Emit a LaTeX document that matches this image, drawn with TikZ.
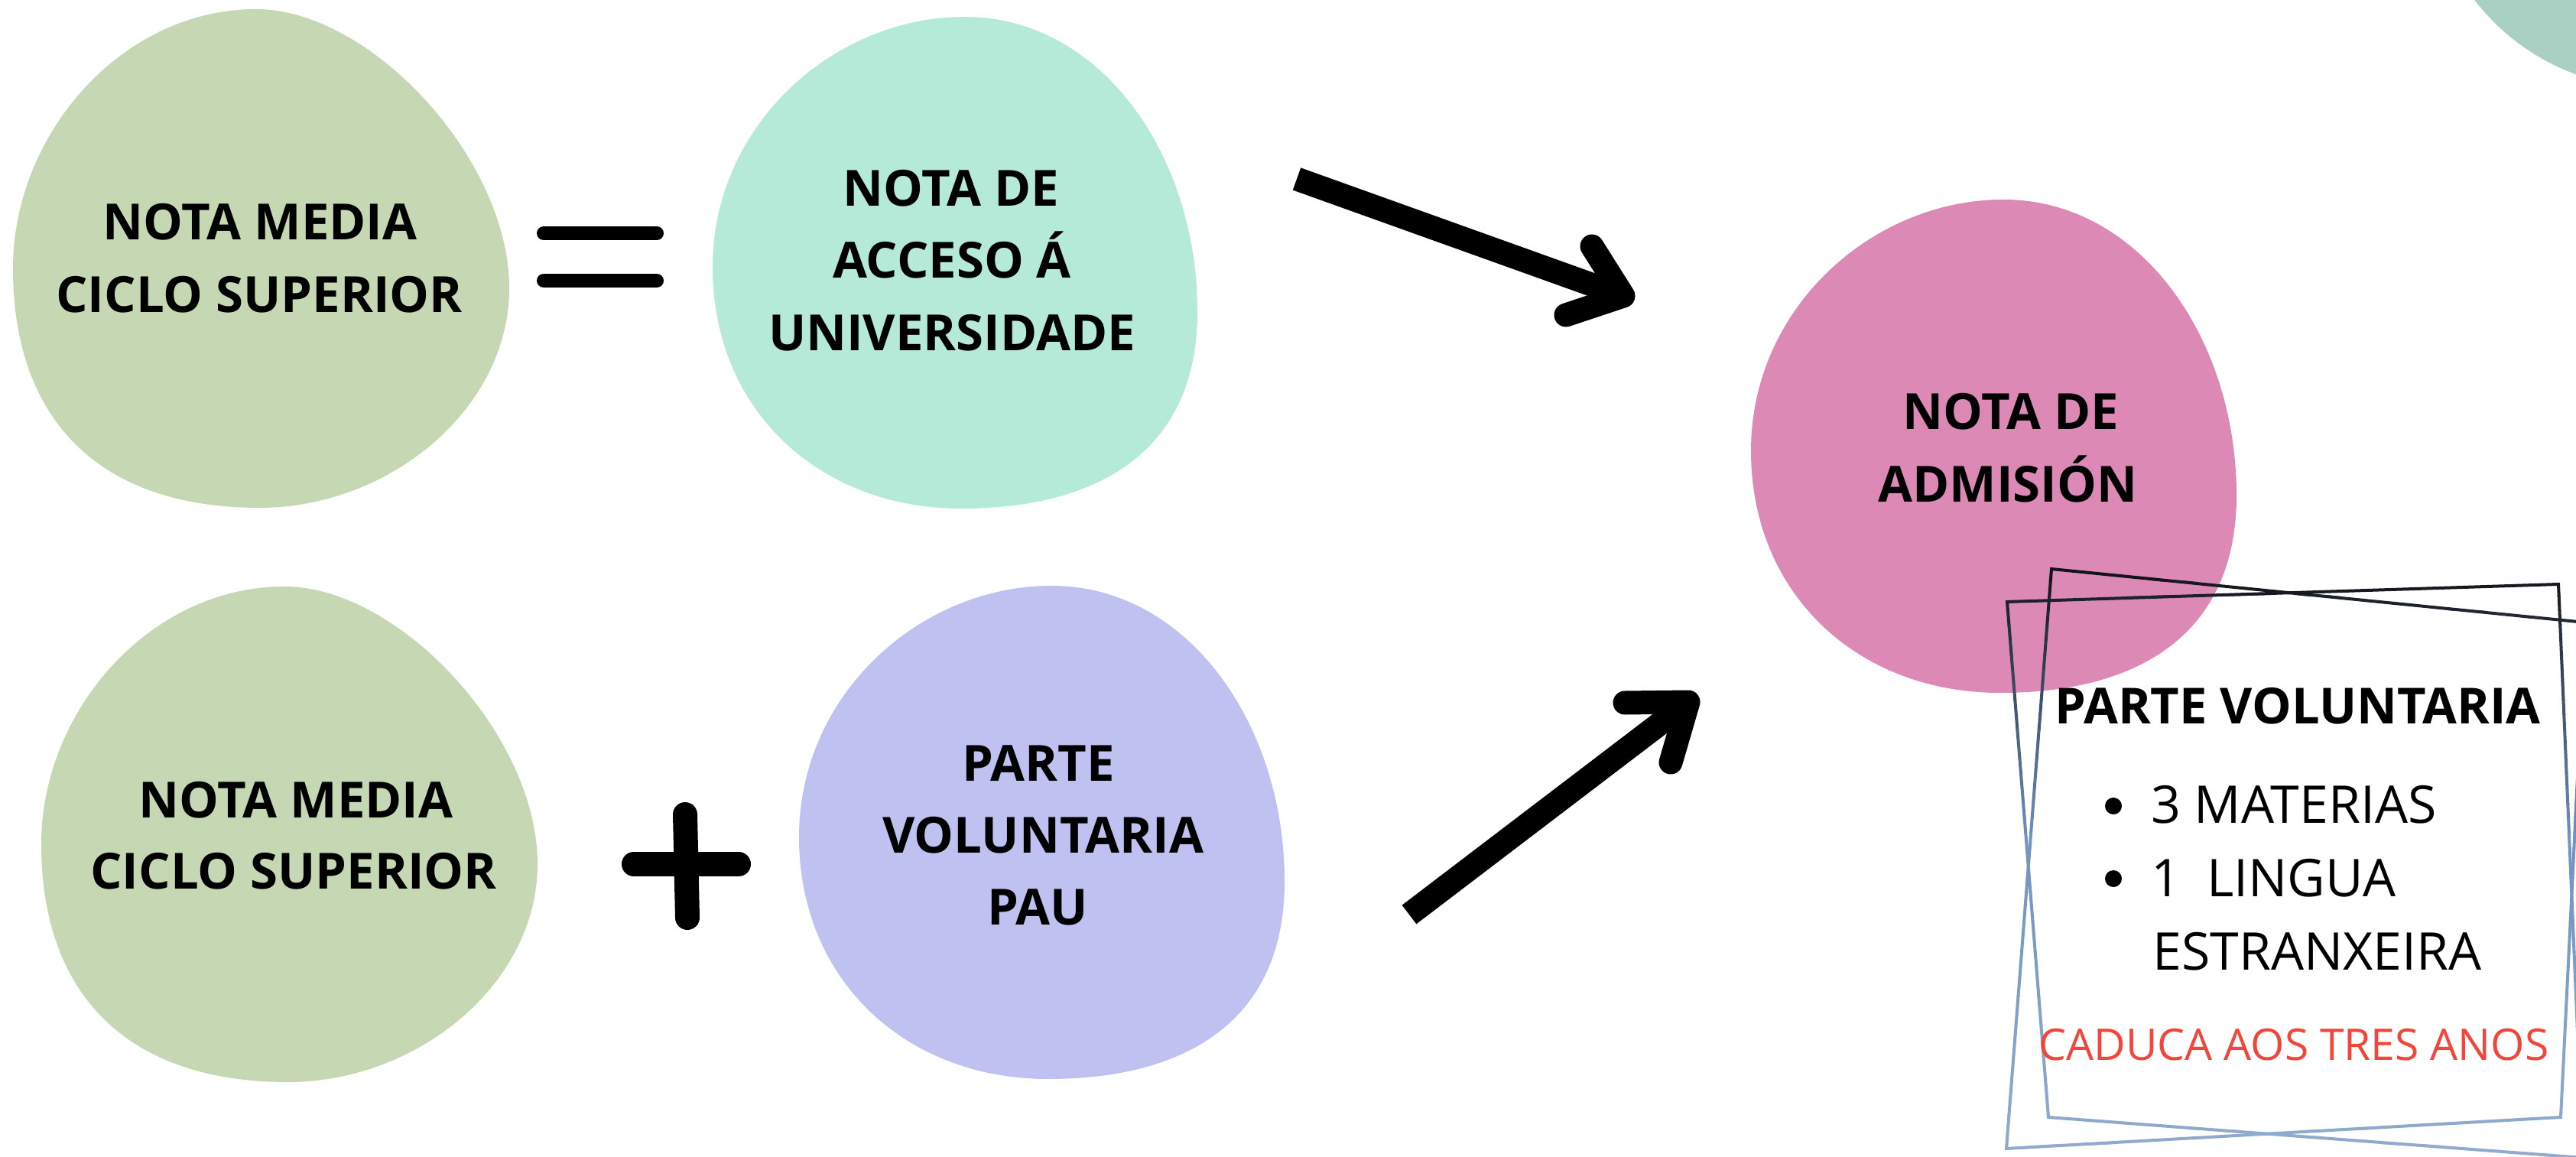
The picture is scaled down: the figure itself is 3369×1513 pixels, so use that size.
\documentclass[tikz,border=0pt]{standalone}
\usepackage{fontspec}
\setmainfont{Open Sans}
\definecolor{blobgreen}{HTML}{C5D7B3}
\definecolor{blobmint}{HTML}{B4EAD7}
\definecolor{blobpink}{HTML}{DC89B6}
\definecolor{bloblav}{HTML}{BFC1F1}
\definecolor{cornerteal}{HTML}{AAD0C4}
\definecolor{redtext}{HTML}{F0463C}
\definecolor{frametop}{HTML}{111418}
\definecolor{framemid}{HTML}{7394BE}
\definecolor{framebot}{HTML}{90ABCD}
\newcommand{\blobAshape}[1]{\fill[#1] (0.49,0)
  .. controls (0.72,0) and (1,0.30) .. (1,0.56)
  .. controls (1,0.80) and (0.76,1) .. (0.497,1)
  .. controls (0.17,1) and (0,0.82) .. (0,0.52)
  .. controls (0,0.25) and (0.22,0) .. (0.49,0) -- cycle;}
\newcommand{\blobBshape}[1]{\fill[#1] (0.52,0)
  .. controls (0.80,0) and (1,0.28) .. (1,0.60)
  .. controls (1,0.88) and (0.80,1) .. (0.513,1)
  .. controls (0.22,1) and (0,0.80) .. (0,0.509)
  .. controls (0,0.22) and (0.25,0) .. (0.52,0) -- cycle;}
\newcommand{\frameP}{(2683,744) -- (3381,814) -- (3349,1461) -- (2624,1502) -- cycle}
\newcommand{\frameQ}{(2625,787) -- (3346,764) -- (3378,1514) -- (2679,1461) -- cycle}
\begin{document}
\begin{tikzpicture}[x=0.5pt, y=-0.5pt,
  titletext/.style={anchor=base, inner sep=0pt, font=\bfseries\fontsize{32.6}{38}\selectfont},
  bodytext/.style={anchor=base west, inner sep=0pt, font=\fontsize{34}{40}\selectfont},
  redline/.style={anchor=base, inner sep=0pt, text=redtext, font=\fontsize{28.5}{34}\selectfont},
  bulletdot/.style={circle, fill=black, inner sep=0pt, minimum size=11pt},
  arrowshaft/.style={line width=15.5pt, line cap=butt},
  arrowhead/.style={line width=15.5pt, line cap=round, line join=round},
  signbar/.style={line cap=round}]
\useasboundingbox (0,0) rectangle (3369,1513);
\fill[white] (0,0) rectangle (3369,1513);
% corner circle
\begin{scope}
  \clip (0,0) rectangle (3369,1513);
  \fill[cornerteal] (3470,-180) circle [radius=295];
\end{scope}
% blobs
\begin{scope}[shift={(17,12)}, xscale=649, yscale=652] \blobAshape{blobgreen} \end{scope}
\begin{scope}[shift={(54,767)}, xscale=649, yscale=648] \blobAshape{blobgreen} \end{scope}
\begin{scope}[shift={(932,22)}, xscale=634, yscale=643] \blobBshape{blobmint} \end{scope}
\begin{scope}[shift={(1045,766)}, xscale=635, yscale=645] \blobBshape{bloblav} \end{scope}
\begin{scope}[shift={(2290,261)}, xscale=635, yscale=645] \blobBshape{blobpink} \end{scope}
% texts in blobs
\node[titletext] (t1a) at (340,314) {NOTA MEDIA};
\node[titletext] (t1b) at (339,409) {CICLO SUPERIOR};
\node[titletext] (t2a) at (1244,270) {NOTA DE};
\node[titletext] (t2b) at (1245,364) {ACCESO Á};
\node[titletext] (t2c) at (1245,459) {UNIVERSIDADE};
\node[titletext] (t3a) at (2630,562) {NOTA DE};
\node[titletext] (t3b) at (2626,657) {ADMISIÓN};
\node[titletext] (t4a) at (387,1069) {NOTA MEDIA};
\node[titletext] (t4b) at (384,1162) {CICLO SUPERIOR};
\node[titletext] (t5a) at (1358,1021) {PARTE};
\node[titletext] (t5b) at (1364,1115) {VOLUNTARIA};
\node[titletext] (t5c) at (1357,1209) {PAU};
% equal sign
\coordinate (eqa1) at (711,305); \coordinate (eqa2) at (859,305);
\coordinate (eqb1) at (711,367); \coordinate (eqb2) at (859,367);
\draw[signbar, line width=9pt] (eqa1) -- (eqa2);
\draw[signbar, line width=9pt] (eqb1) -- (eqb2);
% plus sign
\coordinate (plh1) at (829,1130); \coordinate (plh2) at (966,1130);
\coordinate (plv1) at (896,1065); \coordinate (plv2) at (899,1200);
\draw[signbar, line width=16pt] (plh1) -- (plh2);
\draw[signbar, line width=16pt] (plv1) -- (plv2);
% arrow 1
\coordinate (a1tail) at (1696,234); \coordinate (a1tip) at (2123,387);
\coordinate (a1b1) at (2082,322); \coordinate (a1b2) at (2048,412);
\draw[arrowshaft] (a1tail) -- (a1tip);
\draw[arrowhead] (a1b1) -- (a1tip) -- (a1b2);
% arrow 2
\coordinate (a2tail) at (1843,1196); \coordinate (a2tip) at (2208,918);
\coordinate (a2b1) at (2125,919); \coordinate (a2b2) at (2185,997);
\draw[arrowshaft] (a2tail) -- (a2tip);
\draw[arrowhead] (a2b1) -- (a2tip) -- (a2b2);
% frames with vertical gradient
\foreach \i in {0,...,39} {
  \pgfmathsetmacro\ya{740+\i*19.4}
  \pgfmathsetmacro\yb{\ya+20}
  \pgfmathtruncatemacro\pa{min(100,\i*100/18)}
  \pgfmathtruncatemacro\pb{max(0,(\i-18)*100/21)}
  \colorlet{fcA}{framemid!\pa!frametop}
  \colorlet{fc}{framebot!\pb!fcA}
  \begin{scope}
    \clip (2550,\ya) rectangle (3369,\yb);
    \draw[line width=2pt, color=fc] \frameP;
    \draw[line width=2pt, color=fc] \frameQ;
  \end{scope}
}
% box text
\node[titletext, font=\bfseries\fontsize{32.5}{38}\selectfont] (bt) at (3005,946) {PARTE VOLUNTARIA};
\node[bulletdot] (bu1) at (2764,1054) {};
\node[bulletdot] (bu2) at (2764,1149) {};
\node[bodytext] (bl1) at (2813,1076) {3 MATERIAS};
\node[bodytext] (bl2) at (2813,1172) {1\hspace{0.5em}LINGUA};
\node[bodytext] (bl3) at (2815,1268) {ESTRANXEIRA};
\node[redline] (rl) at (3000,1386) {CADUCA AOS TRES ANOS};
\end{tikzpicture}
\end{document}
